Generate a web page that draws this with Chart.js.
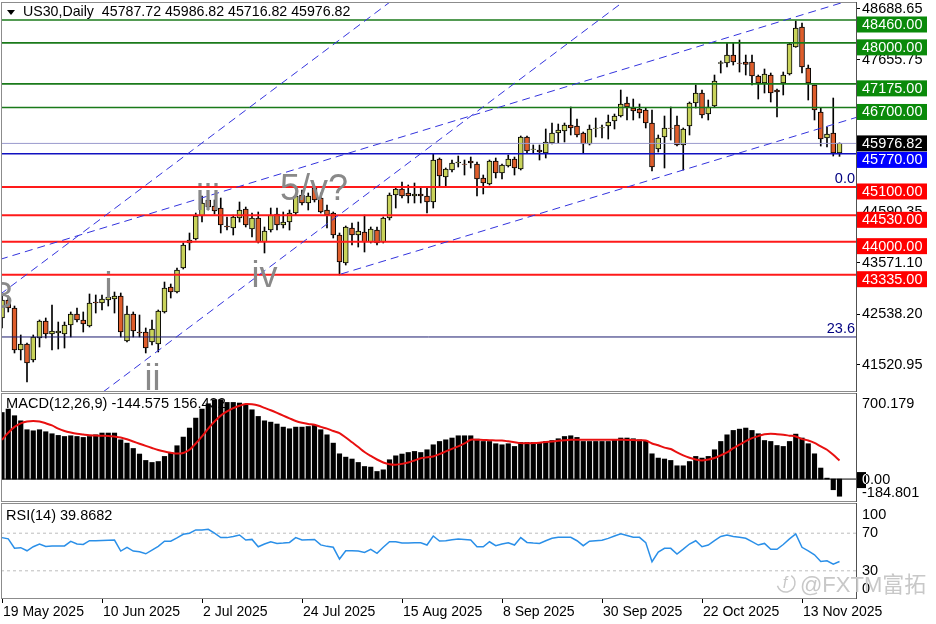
<!DOCTYPE html>
<html><head><meta charset="utf-8">
<script src="https://cdn.jsdelivr.net/npm/chart.js@4.4.1/dist/chart.umd.min.js"></script>
<style>
html,body{margin:0;padding:0;background:#fff;}
#wrap{position:relative;width:936px;height:624px;overflow:hidden;background:#fff;}
canvas{position:absolute;left:0;}
</style></head><body>
<div id="wrap">
<canvas id="cMain" width="936" height="392" style="top:0;width:936px;height:392px"></canvas>
<canvas id="cMacd" width="936" height="111" style="top:392px;width:936px;height:111px"></canvas>
<canvas id="cRsi" width="936" height="121" style="top:503px;width:936px;height:121px"></canvas>
</div>
<script>
const FONT = "'Liberation Sans', Arial, Helvetica, sans-serif";

const dates = [
'19 May 2025','20 May 2025','21 May 2025','22 May 2025','23 May 2025','26 May 2025','27 May 2025','28 May 2025','29 May 2025','30 May 2025',
'2 Jun 2025','3 Jun 2025','4 Jun 2025','5 Jun 2025','6 Jun 2025','9 Jun 2025','10 Jun 2025','11 Jun 2025','12 Jun 2025','13 Jun 2025','16 Jun 2025','17 Jun 2025','18 Jun 2025','19 Jun 2025','20 Jun 2025','23 Jun 2025','24 Jun 2025','25 Jun 2025','26 Jun 2025','27 Jun 2025','30 Jun 2025',
'1 Jul 2025','2 Jul 2025','3 Jul 2025','4 Jul 2025','7 Jul 2025','8 Jul 2025','9 Jul 2025','10 Jul 2025','11 Jul 2025','14 Jul 2025','15 Jul 2025','16 Jul 2025','17 Jul 2025','18 Jul 2025','21 Jul 2025','22 Jul 2025','23 Jul 2025','24 Jul 2025','25 Jul 2025','28 Jul 2025','29 Jul 2025','30 Jul 2025','31 Jul 2025',
'1 Aug 2025','4 Aug 2025','5 Aug 2025','6 Aug 2025','7 Aug 2025','8 Aug 2025','11 Aug 2025','12 Aug 2025','13 Aug 2025','14 Aug 2025','15 Aug 2025','18 Aug 2025','19 Aug 2025','20 Aug 2025','21 Aug 2025','22 Aug 2025','25 Aug 2025','26 Aug 2025','27 Aug 2025','28 Aug 2025','29 Aug 2025',
'1 Sep 2025','2 Sep 2025','3 Sep 2025','4 Sep 2025','5 Sep 2025','8 Sep 2025','9 Sep 2025','10 Sep 2025','11 Sep 2025','12 Sep 2025','15 Sep 2025','16 Sep 2025','17 Sep 2025','18 Sep 2025','19 Sep 2025','22 Sep 2025','23 Sep 2025','24 Sep 2025','25 Sep 2025','26 Sep 2025','29 Sep 2025','30 Sep 2025',
'1 Oct 2025','2 Oct 2025','3 Oct 2025','6 Oct 2025','7 Oct 2025','8 Oct 2025','9 Oct 2025','10 Oct 2025','13 Oct 2025','14 Oct 2025','15 Oct 2025','16 Oct 2025','17 Oct 2025','20 Oct 2025','21 Oct 2025','22 Oct 2025','23 Oct 2025','24 Oct 2025','27 Oct 2025','28 Oct 2025','29 Oct 2025','30 Oct 2025','31 Oct 2025',
'3 Nov 2025','4 Nov 2025','5 Nov 2025','6 Nov 2025','7 Nov 2025','10 Nov 2025','11 Nov 2025','12 Nov 2025','13 Nov 2025','14 Nov 2025','17 Nov 2025','18 Nov 2025','19 Nov 2025','20 Nov 2025','21 Nov 2025'];

const open = [42464,42826,42665,41820,41941,41619,42061,42403,42142,42162,
 42142,42323,42544,42424,42303,42786,42766,42826,42846,42907,
 42001,42544,42182,42182,41981,41941,42585,43088,42987,43470,
 43973,44053,44516,44838,44717,44677,44315,44275,44476,44657,
 44254,44476,43993,44234,44556,44335,44395,44576,44939,44778,
 45079,44878,44637,44576,44134,43570,44275,44134,44194,43993,
 44234,43993,44476,44939,45059,44979,44919,44959,44919,44798,
 45663,45301,45442,45582,45562,45623,45562,45281,45160,45623,
 45381,45522,45663,45462,46106,45854,45844,45784,45985,46186,
 46226,46347,46327,46186,45965,46277,46287,46327,46428,46528,
 46790,46689,46669,46649,46387,45864,46106,46287,46347,45945,
 46327,46790,46991,46568,46729,47584,47594,47755,47594,47615,
 47615,47333,47192,47353,47051,47192,47373,47916,48319,47494,
 47152,46609,46085,46186,45787.72];
const high = [42907,42907,42705,42122,41961,42122,42424,42464,42725,42383,
 42383,42585,42665,42585,42947,42927,42927,42967,42987,42967,
 42705,42585,42524,42263,42424,42625,43188,43148,43470,43973,
 44174,44576,44919,44959,44838,44878,44496,44536,44798,44697,
 44576,44597,44295,44677,44677,44597,44637,44979,45039,44979,
 45100,44979,44737,44597,44174,44315,44375,44395,44536,44295,
 44295,44496,44979,45100,45200,45140,45180,45100,45100,45764,
 45683,45482,45643,45723,45643,45703,45603,45341,45643,45683,
 45562,45743,45703,46126,46126,45945,45945,46267,46387,46367,
 46387,46709,46468,46206,46347,46488,46347,46548,46568,47051,
 46910,46870,46770,46689,46649,46146,46528,46709,46528,46287,
 46810,47152,47051,46850,47353,47635,47997,47997,48057,47755,
 47755,47353,47474,47393,47071,47413,47997,48440,48399,47554,
 47152,46689,46307,46890,45986.82];
const low = [42263,42585,41760,41619,41176,41579,41880,42061,41820,41840,
 41860,42082,42383,42182,42283,42564,42625,42705,42564,42082,
 41981,42082,42082,41760,41921,41780,42564,42866,42967,43450,
 43832,44033,44395,44637,44556,44174,44234,44134,44395,44295,
 44094,43973,43772,44194,44234,44275,44234,44536,44737,44637,
 44798,44576,44275,44073,43329,43530,43933,43892,43792,43973,
 43933,43973,44436,44677,44878,44778,44778,44778,44576,44677,
 45100,45100,45401,45502,45341,45482,44919,44959,45140,45281,
 45261,45502,45341,45442,45784,45784,45643,45683,45965,45985,
 46005,46146,46106,45784,45945,46106,46085,46065,46267,46508,
 46448,46448,46488,46287,45421,45804,45482,46045,45924,45442,
 46146,46689,46488,46448,46709,47393,47514,47554,47413,47353,
 47152,46870,46991,46810,46508,46951,47353,47910,47393,46850,
 46448,45924,45904,45723,45716.82];
const close = [42826,42665,41820,41941,41558,42082,42403,42142,42202,42202,
 42323,42544,42424,42343,42766,42766,42846,42886,42907,42182,
 42544,42202,42162,41860,42243,42605,43067,42987,43430,43933,
 44033,44516,44778,44697,44617,44335,44295,44496,44637,44335,
 44476,43993,44214,44536,44335,44395,44576,44919,44778,44919,
 44838,44597,44536,44134,43591,44295,44134,44214,43993,44254,
 43973,44476,44939,45059,44919,44919,44959,44919,44798,45643,
 45321,45462,45582,45603,45552,45582,45261,45180,45623,45381,
 45542,45663,45482,46106,45824,45864,45804,46005,46186,46246,
 46347,46287,46146,45965,46267,46287,46297,46407,46528,46770,
 46709,46629,46588,46387,45502,46085,46287,46277,45945,46267,
 46790,46991,46548,46709,47232,47604,47755,47615,47584,47564,
 47333,47192,47373,46991,47011,47353,47977,48299,47514,47192,
 46649,46065,46166,45784,45976.82];

const macdHist = [561,590,534,491,416,407,416,399,382,368,
 359,365,359,351,359,373,388,388,388,331,
 303,258,211,157,140,148,191,224,281,354,
 430,514,590,635,669,669,646,646,641,626,
 584,528,491,480,464,438,424,438,438,443,
 452,416,373,303,213,185,169,140,106,101,
 64,78,163,196,211,224,233,224,247,289,
 317,331,346,365,365,365,337,317,317,298,
 289,298,275,309,309,309,309,317,325,340,
 359,365,351,317,317,317,317,317,331,346,
 346,340,331,320,213,177,169,157,112,112,
 148,191,177,191,247,317,373,410,421,430,
 410,382,325,317,283,275,317,379,346,298,
 213,93,8,-90,-144.575];
const macdSignal = [331,390,440,470,486,490,486,470,452,425,
 405,392,382,375,369,367,365,364,358,350,
 335,317,298,280,262,245,232,222,215,220,
 247,300,360,425,485,535,570,598,618,632,
 630,620,600,580,558,535,512,490,475,465,
 458,440,425,405,388,350,310,270,228,195,
 165,140,125,121,128,140,157,175,183,191,
 210,233,255,275,300,331,331,330,328,326,
 325,318,310,303,303,303,306,312,317,322,
 327,331,331,331,331,331,331,331,331,331,
 330,329,327,325,300,285,265,253,225,200,
 180,165,157,165,177,200,225,260,290,320,
 345,362,378,382,378,373,366,359,337,325,
 305,275,247,205,156.4];
const rsi = [65.3,64,54,54.6,51.3,55.6,58.5,55.8,56.3,56.3,
 56.5,61.4,58.5,58.1,62,62,62.2,62.5,62.7,51,
 55,51,50.3,48.1,52,56,61.4,61.4,65,68.9,
 70,73.5,73.5,74.2,70,65.3,65.3,66.5,68.1,62.7,
 63.4,55.6,58.5,60.9,59.1,59.5,60.2,65.3,62.7,63,
 63.4,57.6,56,55,42.5,51.3,51.2,51,49.6,52.8,
 48.6,55,60.9,60.9,59.5,59.5,59.8,59.8,57.4,67,
 61.6,62,63,63.7,63.4,62.7,55.6,55.6,60.9,56.7,
 58.5,59.8,57.4,65.3,60.2,59.5,59.1,62,64.6,65.6,
 65.6,65.6,62,56.7,61.5,62,62.5,64.5,67,69.3,
 67.5,65.6,65.6,60,39.6,50,53.9,53.9,47.9,53,
 58.5,62,55.6,57.4,62,66.5,68.1,66.5,65.6,64.6,
 61,57.4,59.1,52.8,52.8,58,64,69.3,55,51.3,
 47,40,40.7,37.1,39.8682];

const priceTicks = [48688.65, 47655.75, 46622.85, 45589.95, 44590.35, 43571.10, 42538.20, 41520.95];
const resistanceLevels = [48460, 48000, 47175, 46700];
const supportLevels = [45100, 44530, 44000, 43335];
const keyLevel = 45770;
const lastPrice = 45976.82;
const fibLevels = [{label:'0.0', value:45100}, {label:'23.6', value:42082}];
const waveLabels = [
  {text:'3', x:0.16, y:42665}, {text:'i', x:17.04, y:42866}, {text:'ii', x:24.08, y:41015},
  {text:'iii', x:32.96, y:44637}, {text:'iv', x:42, y:43088}, {text:'5/v?', x:49.92, y:44838}];
const trendLines = [
  {x1:-0.32, y1:42937, x2:62.08, y2:48822},
  {x1:-0.32, y1:43643, x2:136.64, y2:48894},
  {x1:16.16, y1:40975, x2:99.36, y2:48822},
  {x1:54.24, y1:43349, x2:136.64, y2:46498}];
const dateTicks = [0,16,32,48,64,80,96,112,128];
const chartTitle = 'US30,Daily  45787.72 45986.82 45716.82 45976.82';
const macdTitle = 'MACD(12,26,9) -144.575 156.432';
const rsiTitle = 'RSI(14) 39.8682';
const priceRange = [40995, 48802];
const macdRange = [-184.801, 700.179];
const rsiLevels = [70, 30];

const X_MIN = -0.16, X_MAX = 136.64;
const idx = dates.map((d, i) => i);
const BULL = '#c9d35b', BEAR = '#de5d2b';

function hLine(v, color, width, order, dash) {
  return {type:'line', data:[{x:X_MIN, y:v}, {x:X_MAX, y:v}], borderColor:color, borderWidth:width,
    borderDash: dash || [], pointRadius:0, order:order};
}
function frame(ctx, x0, y0, w, h) {
  ctx.save();
  ctx.strokeStyle = '#8c8c8c'; ctx.lineWidth = 1;
  ctx.strokeRect(x0, y0, w, h);
  ctx.strokeStyle = '#505050';
  ctx.beginPath(); ctx.moveTo(x0 + w, y0 - 0.5); ctx.lineTo(x0 + w, y0 + h + 0.5); ctx.stroke();
  ctx.restore();
}
const baseOpts = {
  responsive:false, animation:false, devicePixelRatio:1, events:[],
  plugins:{legend:{display:false}, tooltip:{enabled:false}}
};

// ---------- MAIN PRICE CHART ----------
const mainDatasets = [
  {type:'bar', data: idx.map(i => ({x:i, y:[open[i], close[i]]})),
   backgroundColor: idx.map(i => close[i] >= open[i] ? BULL : BEAR),
   borderColor:'#000', borderWidth:1, borderSkipped:false, barThickness:5, grouped:false, order:5},
  {type:'bar', data: idx.map(i => ({x:i, y:[low[i], high[i]]})),
   backgroundColor:'#000', borderWidth:0, barThickness:1, grouped:false, order:6}
];
resistanceLevels.forEach(v => mainDatasets.push(hLine(v, '#1a7a1a', 1.6, 2)));
supportLevels.forEach(v => mainDatasets.push(hLine(v, '#ff1a1a', 2, 2)));
mainDatasets.push(hLine(lastPrice, '#9a9acd', 1, 2));
mainDatasets.push(hLine(keyLevel, '#1010c0', 1.5, 2));
mainDatasets.push(hLine(fibLevels[1].value, '#1a1a6e', 1, 2));
trendLines.forEach(t => mainDatasets.push({type:'line', data:[{x:t.x1, y:t.y1}, {x:t.x2, y:t.y2}],
  borderColor:'#3333dd', borderWidth:1, borderDash:[8,5], pointRadius:0, order:1}));

new Chart(document.getElementById('cMain'), {
  type:'bar',
  data:{datasets: mainDatasets},
  options: Object.assign({}, baseOpts, {
    layout:{padding:{left:1, top:3, right:0, bottom:1}},
    scales:{
      x:{type:'linear', min:X_MIN, max:X_MAX, offset:false, display:false, grid:{offset:false}},
      y:{type:'linear', position:'right', min:priceRange[0], max:priceRange[1],
        afterBuildTicks: s => { s.ticks = priceTicks.map(v => ({value:v})); },
        afterFit: s => { s.width = 80; s.paddingTop = 0; s.paddingBottom = 0; },
        ticks:{callback: v => Number(v).toFixed(2), font:{family:FONT, size:14.5}, color:'#000', padding:2, autoSkip:false},
        grid:{drawOnChartArea:false, drawTicks:true, tickLength:4, color:'#000'},
        border:{display:false}}
    }
  }),
  plugins:[{
    id:'mainDecor',
    afterDatasetsDraw(chart) {
      const {ctx, chartArea:a, scales:{x, y}} = chart;
      ctx.save();
      ctx.beginPath(); ctx.rect(a.left, a.top, a.right - a.left, a.bottom - a.top); ctx.clip();
      ctx.font = '36px ' + FONT; ctx.fillStyle = '#898989'; ctx.textAlign = 'center'; ctx.textBaseline = 'alphabetic';
      waveLabels.forEach(w => ctx.fillText(w.text, x.getPixelForValue(w.x), y.getPixelForValue(w.y)));
      ctx.font = '14.5px ' + FONT; ctx.fillStyle = '#000080'; ctx.textAlign = 'right'; ctx.textBaseline = 'bottom';
      fibLevels.forEach(f => ctx.fillText(f.label, a.right - 1, y.getPixelForValue(f.value) - 1));
      ctx.restore();
    },
    afterDraw(chart) {
      const {ctx, scales:{y}} = chart;
      frame(ctx, 1.5, 2.5, 855, 389);
      const drawBox = (txt, bg, top) => {
        ctx.fillStyle = bg; ctx.fillRect(857, top, 70, 16);
        ctx.fillStyle = '#fff'; ctx.fillText(txt, 862, top + 8.5);
      };
      ctx.save();
      ctx.font = '14.5px ' + FONT; ctx.textAlign = 'left'; ctx.textBaseline = 'middle';
      resistanceLevels.forEach(v => drawBox(v.toFixed(2), '#0a8a0a', y.getPixelForValue(v) - 3.5));
      supportLevels.forEach(v => drawBox(v.toFixed(2), '#ff0000', y.getPixelForValue(v) - 3.5));
      const bt = y.getPixelForValue(lastPrice) - 8;
      drawBox(lastPrice.toFixed(2), '#000', bt);
      drawBox(keyLevel.toFixed(2), '#0000ff', Math.max(y.getPixelForValue(keyLevel) - 3.5, bt + 16.5));
      // title
      ctx.fillStyle = '#000';
      ctx.beginPath(); ctx.moveTo(7, 10); ctx.lineTo(15, 10); ctx.lineTo(11, 15); ctx.closePath(); ctx.fill();
      ctx.font = '14.2px ' + FONT; ctx.fillText(chartTitle, 23, 12.5);
      ctx.restore();
    }
  }]
});

// ---------- MACD ----------
new Chart(document.getElementById('cMacd'), {
  type:'bar',
  data:{datasets:[
    hLine(0, '#000', 1, 4),
    {type:'bar', data: idx.map(i => ({x:i, y:macdHist[i]})), backgroundColor:'#000', borderWidth:0,
     barThickness:4.5, grouped:false, order:3},
    {type:'line', data: idx.map(i => ({x:i, y:macdSignal[i]})), borderColor:'#e81010', borderWidth:2,
     pointRadius:0, tension:0.3, order:1}
  ]},
  options: Object.assign({}, baseOpts, {
    layout:{padding:{left:1, top:4, right:80, bottom:2}},
    scales:{
      x:{type:'linear', min:X_MIN, max:X_MAX, offset:false, display:false, grid:{offset:false}},
      y:{type:'linear', min:macdRange[0], max:macdRange[1], display:false}
    }
  }),
  plugins:[{
    id:'macdDecor',
    beforeDatasetsDraw(chart) {
      const {ctx} = chart;
      ctx.save(); ctx.font = '14.6px ' + FONT; ctx.fillStyle = '#000'; ctx.textBaseline = 'middle'; ctx.textAlign = 'left';
      ctx.fillText(macdTitle, 6, 11.5); ctx.restore();
    },
    afterDraw(chart) {
      const {ctx, scales:{y}} = chart;
      frame(ctx, 1.5, 1.5, 855, 108);
      ctx.save(); ctx.font = '14.5px ' + FONT; ctx.textBaseline = 'middle'; ctx.textAlign = 'left'; ctx.fillStyle = '#000';
      ctx.fillText(macdRange[1].toFixed(3), 862, y.getPixelForValue(macdRange[1]) + 8);
      ctx.fillText(macdRange[0].toFixed(3), 862, y.getPixelForValue(macdRange[0]) - 8);
      const zy = y.getPixelForValue(0);
      ctx.fillRect(857, zy - 7, 9, 16);
      ctx.fillText('0.00', 862, zy + 1);
      ctx.save(); ctx.beginPath(); ctx.rect(857, zy - 7, 9, 16); ctx.clip();
      ctx.fillStyle = '#fff'; ctx.fillText('0.00', 862, zy + 1); ctx.restore();
      ctx.restore();
    }
  }]
});

// ---------- RSI ----------
const rsiDatasets = rsiLevels.map(v => hLine(v, '#bdbdbd', 1, 3, [3,3]));
rsiDatasets.push({type:'line', data: idx.map(i => ({x:i, y:rsi[i]})), borderColor:'#2a8fe8', borderWidth:1.5,
  pointRadius:0, order:1});
new Chart(document.getElementById('cRsi'), {
  type:'line',
  data:{datasets: rsiDatasets},
  options: Object.assign({}, baseOpts, {
    layout:{padding:{left:1, top:2, right:80, bottom:0}},
    scales:{
      x:{type:'linear', position:'bottom', min:X_MIN, max:X_MAX, offset:false,
        afterBuildTicks: s => { s.ticks = dateTicks.map(v => ({value:v})); },
        afterFit: s => { s.height = 25; },
        ticks:{callback: v => dates[v], align:'start', labelOffset:1, padding:1, autoSkip:false, maxRotation:0, minRotation:0,
          font:{family:FONT, size:14}, color:'#000'},
        grid:{drawOnChartArea:false, drawTicks:true, tickLength:4, color:'#000', offset:false},
        border:{display:false}},
      y:{type:'linear', min:0, max:100, display:false}
    }
  }),
  plugins:[{
    id:'rsiDecor',
    afterDraw(chart) {
      const {ctx, scales:{y}} = chart;
      frame(ctx, 1.5, 0.5, 855, 95);
      ctx.save(); ctx.fillStyle = '#000'; ctx.textBaseline = 'middle'; ctx.textAlign = 'left';
      ctx.font = '14.5px ' + FONT; ctx.fillText(rsiTitle, 6, 12.5);
      ctx.fillText('100', 862, y.getPixelForValue(100) + 10);
      rsiLevels.forEach(v => ctx.fillText(String(v), 862, y.getPixelForValue(v)));
      ctx.fillText('0', 862, y.getPixelForValue(0) - 10);
      // watermark
      ctx.fillStyle = '#c8c8c8'; ctx.strokeStyle = '#c8c8c8'; ctx.lineWidth = 1.5;
      ctx.beginPath(); ctx.arc(786, 80, 9, -0.3 * Math.PI, 0.9 * Math.PI); ctx.stroke();
      ctx.font = 'italic 16px ' + FONT; ctx.textAlign = 'center'; ctx.fillText('f', 785, 81);
      ctx.textAlign = 'left'; ctx.textBaseline = 'alphabetic';
      ctx.font = "22px 'Liberation Sans', 'Noto Sans CJK SC', sans-serif";
      ctx.fillText('@FXTM富拓', 800, 89);
      ctx.restore();
    }
  }]
});
</script>
</body></html>
